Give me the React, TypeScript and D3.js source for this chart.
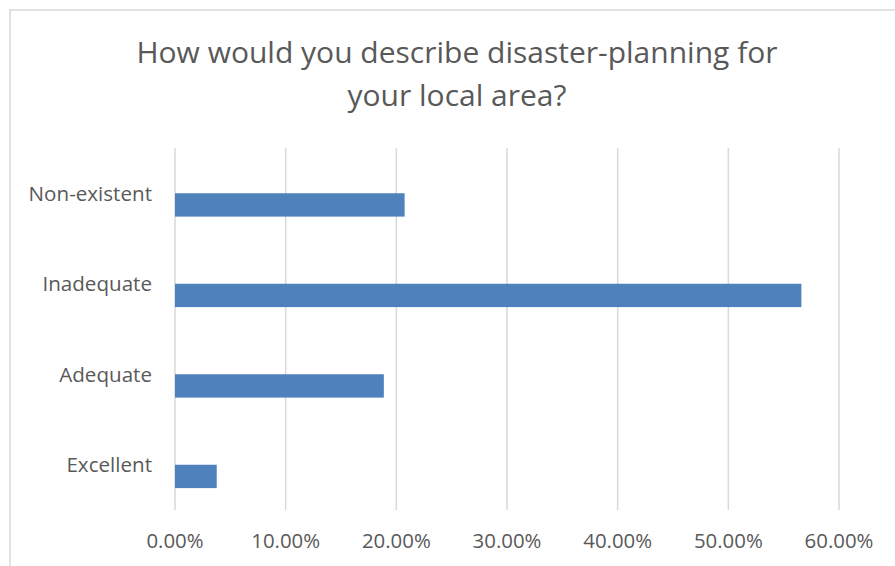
import React from "react";
import * as d3 from "d3";

const categories = ["Non-existent", "Inadequate", "Adequate", "Excellent"];
const values = [0.2075, 0.566, 0.1887, 0.0377];
const tickValues = [0, 0.1, 0.2, 0.3, 0.4, 0.5, 0.6];
const titleLines = ["How would you describe disaster-planning for", "your local area?"];

const W = 895;
const H = 566;
const FONT = "'Open Sans', sans-serif";
const TEXT = "#595959";

export default function App() {
  const x = d3.scaleLinear().domain([0, 0.6]).range([175, 839]);
  const y = d3.scaleBand<string>().domain(categories).range([148, 510]).padding(0);
  const bw = y.bandwidth();
  const fmt = d3.format(".2%");

  return (
    <svg
      width={W}
      height={H}
      style={{ position: "absolute", left: 0, top: 0, display: "block" }}
    >
      <rect x={0} y={0} width={W} height={H} fill="#ffffff" />
      <rect x={10} y={10} width={W + 20} height={H + 20} fill="none" stroke="#d9d9d9" strokeWidth={1.5} />
      {titleLines.map((t, i) => (
        <text
          key={i}
          x={457}
          y={63 + i * 43}
          textAnchor="middle"
          fontFamily={FONT}
          fontSize={30}
          fill={TEXT}
        >
          {t}
        </text>
      ))}
      {tickValues.map((v) => (
        <line
          key={"g" + v}
          x1={x(v)}
          x2={x(v)}
          y1={148}
          y2={510}
          stroke="#d9d9d9"
          strokeWidth={1.5}
        />
      ))}
      {categories.map((c, i) => (
        <rect
          key={"b" + c}
          x={x(0)}
          y={(y(c) as number) + bw / 2}
          width={x(values[i]) - x(0)}
          height={bw * 0.258}
          fill="#4f81bd"
        />
      ))}
      {categories.map((c) => (
        <text
          key={"l" + c}
          x={152}
          y={(y(c) as number) + bw / 2 + 7.5}
          textAnchor="end"
          fontFamily={FONT}
          fontSize={20.6}
          fill={TEXT}
        >
          {c}
        </text>
      ))}
      {tickValues.map((v) => (
        <text
          key={"t" + v}
          x={x(v)}
          y={548}
          textAnchor="middle"
          fontFamily={FONT}
          fontSize={20.4}
          fill={TEXT}
        >
          {fmt(v)}
        </text>
      ))}
    </svg>
  );
}
